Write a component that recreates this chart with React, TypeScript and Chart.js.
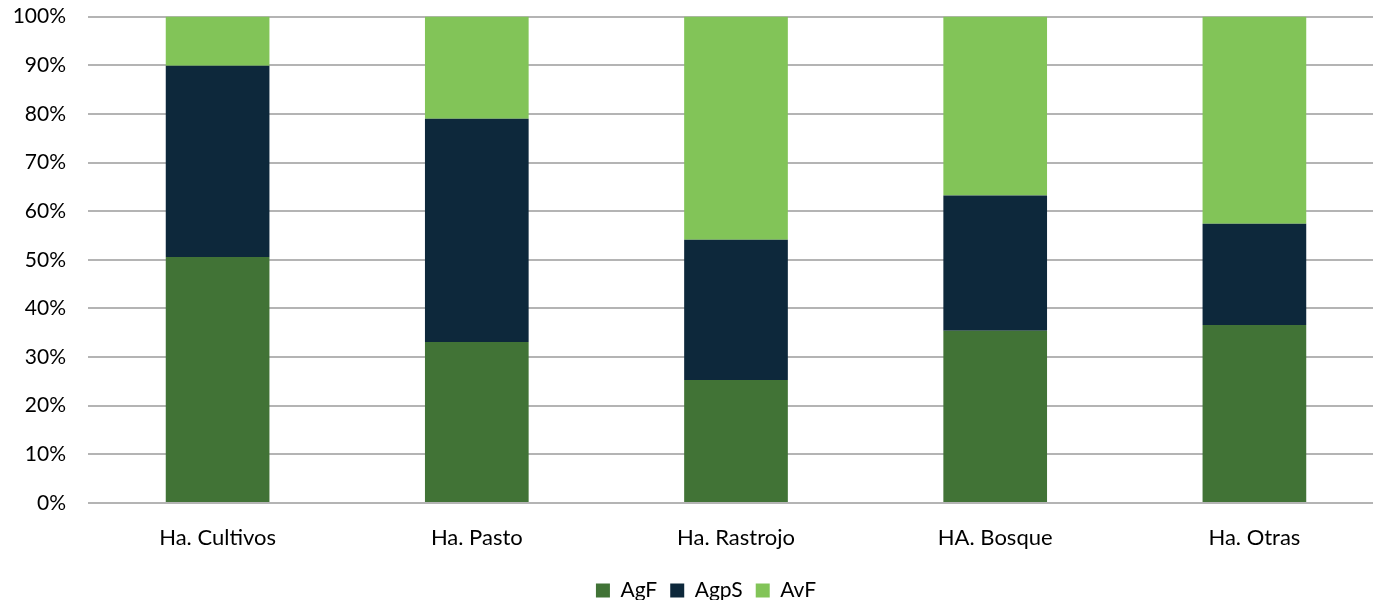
import React, { useEffect, useRef } from "react";
import { Chart, registerables } from "chart.js";

Chart.register(...registerables);

const categories = ["Ha. Cultivos", "Ha. Pasto", "Ha. Rastrojo", "HA. Bosque", "Ha. Otras"];
const agF = [50.6, 33.1, 25.3, 35.4, 36.6];
const agpS = [39.3, 45.9, 28.8, 27.8, 20.8];
const avF = [10.1, 21.0, 45.9, 36.8, 42.6];
const yTicks = [0, 10, 20, 30, 40, 50, 60, 70, 80, 90, 100];

const FONT = "Lato, 'Open Sans', sans-serif";

const legendShift = {
  id: "legendShift",
  afterLayout(chart: any) {
    if (chart.legend) {
      chart.legend.left += 14;
      chart.legend.right += 14;
    }
  },
};

export default function App() {
  const ref = useRef<HTMLCanvasElement>(null);
  useEffect(() => {
    if (!ref.current) return;
    const chart = new Chart(ref.current, {
      type: "bar",
      data: {
        labels: categories,
        datasets: [
          { label: "AgF", data: agF, backgroundColor: "#417336" },
          { label: "AgpS", data: agpS, backgroundColor: "#0D283B" },
          { label: "AvF", data: avF, backgroundColor: "#82C458" },
        ],
      },
      plugins: [legendShift],
      options: {
        animation: false,
        responsive: false,
        maintainAspectRatio: false,
        datasets: { bar: { barPercentage: 1, categoryPercentage: 0.4 } },
        layout: { padding: { top: 0, left: 0, right: 0, bottom: 0 } },
        plugins: {
          legend: {
            position: "bottom",
            labels: {
              font: { family: FONT, size: 21 },
              color: "#000",
              boxWidth: 14,
              boxHeight: 14,
              padding: 13,
            },
          },
          tooltip: { enabled: false },
        },
        scales: {
          x: {
            stacked: true,
            grid: { display: false, drawTicks: false },
            border: { display: false },
            ticks: { font: { family: FONT, size: 22 }, color: "#000", padding: 22, maxRotation: 0 },
            afterFit: (s: any) => { s.height = 64; },
          },
          y: {
            stacked: true,
            min: 0,
            max: 100,
            afterBuildTicks: (s: any) => { s.ticks = yTicks.map((v) => ({ value: v })); },
            grid: { color: "#B4B4B4", lineWidth: 2, drawTicks: false },
            border: { display: false },
            ticks: {
              font: { family: FONT, size: 21 },
              color: "#000",
              padding: 22,
              callback: (v: any) => v + "%",
            },
            afterFit: (s: any) => { s.width = 88; },
          },
        },
      },
    });
    return () => chart.destroy();
  }, []);
  return (
    <div style={{ position: "fixed", left: 0, top: 0, width: 1373, height: 600, overflow: "hidden", background: "#fff" }}>
      <canvas ref={ref} width={1384} height={629} style={{ display: "block", marginTop: -18 }} />
    </div>
  );
}
